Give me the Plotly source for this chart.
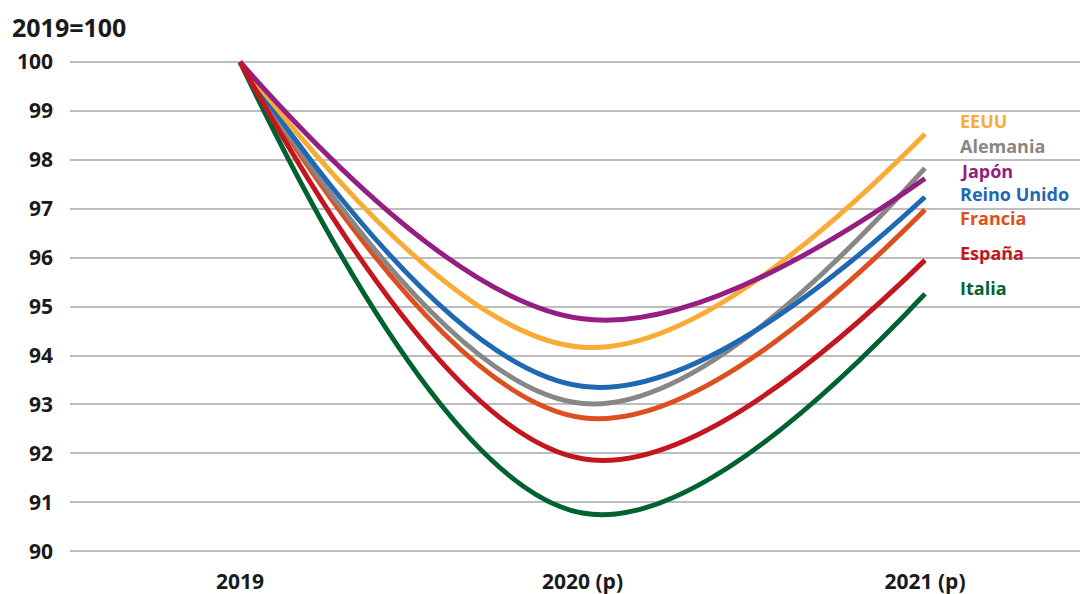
import plotly.graph_objects as go

# Periods and index values (2019 = 100)
periods = ["2019", "2020 (p)", "2021 (p)"]
eeuu = [100.0, 94.17, 98.53]
alemania = [100.0, 93.02, 97.83]
japon = [100.0, 94.75, 97.62]
reino_unido = [100.0, 93.37, 97.24]
francia = [100.0, 92.73, 96.98]
espana = [100.0, 91.89, 95.95]
italia = [100.0, 90.78, 95.26]

series = [
    ("Italia", italia, "#00632f"),
    ("Francia", francia, "#dd4f20"),
    ("Alemania", alemania, "#878787"),
    ("Reino Unido", reino_unido, "#1f69b3"),
    ("EEUU", eeuu, "#f9ac35"),
    ("Japón", japon, "#941e81"),
    ("España", espana, "#c3161f"),
]

# Right-hand labels: (name, y position, colour)
labels = [
    ("EEUU", 98.79, "#f9ac35"),
    ("Alemania", 98.28, "#878787"),
    ("Japón", 97.77, "#941e81"),
    ("Reino Unido", 97.30, "#1f69b3"),
    ("Francia", 96.81, "#dd4f20"),
    ("España", 96.09, "#c3161f"),
    ("Italia", 95.38, "#00632f"),
]

FONT = "Open Sans"
xpos = list(range(len(periods)))

fig = go.Figure()
for name, vals, color in series:
    fig.add_trace(go.Scatter(
        x=xpos, y=vals, mode="lines", name=name,
        line=dict(color=color, width=5, shape="spline", smoothing=1.1),
        hoverinfo="skip",
    ))

for name, yv, color in labels:
    fig.add_annotation(
        x=2.095, y=yv, xref="x", yref="y", text=f"<b>{name}</b>",
        showarrow=False, xanchor="left", yanchor="middle",
        font=dict(family=FONT, size=18, color=color),
    )

fig.add_annotation(
    x=-60 / 1010, y=1 + 13 / 521, xref="paper", yref="paper",
    text="<b>2019=100</b>", showarrow=False, xanchor="left", yanchor="middle",
    font=dict(family=FONT, size=25, color="#1a1a1a"),
)

fig.update_layout(
    width=1083, height=594,
    margin=dict(l=70, r=3, t=40, b=33),
    paper_bgcolor="white", plot_bgcolor="white",
    showlegend=False,
    font=dict(family=FONT, color="#1a1a1a"),
    xaxis=dict(
        range=[-0.4964, 2.4526], tickmode="array", tickvals=xpos,
        ticktext=[f"<b>{p}</b>" for p in periods],
        showgrid=False, zeroline=False, showline=False, ticks="",
        tickfont=dict(family=FONT, size=21, color="#1a1a1a"),
        ticklabelstandoff=6, automargin=False,
    ),
    yaxis=dict(
        range=[89.8, 100.45], dtick=1, tick0=90,
        showgrid=True, gridcolor="#bdbdbd", gridwidth=1.5,
        zeroline=False, showline=False, ticks="",
        tickfont=dict(family=FONT, size=21, color="#1a1a1a"),
        tickprefix="<b>", ticksuffix="</b>",
        ticklabelstandoff=16, automargin=False,
    ),
)

fig.write_html("out.html")
